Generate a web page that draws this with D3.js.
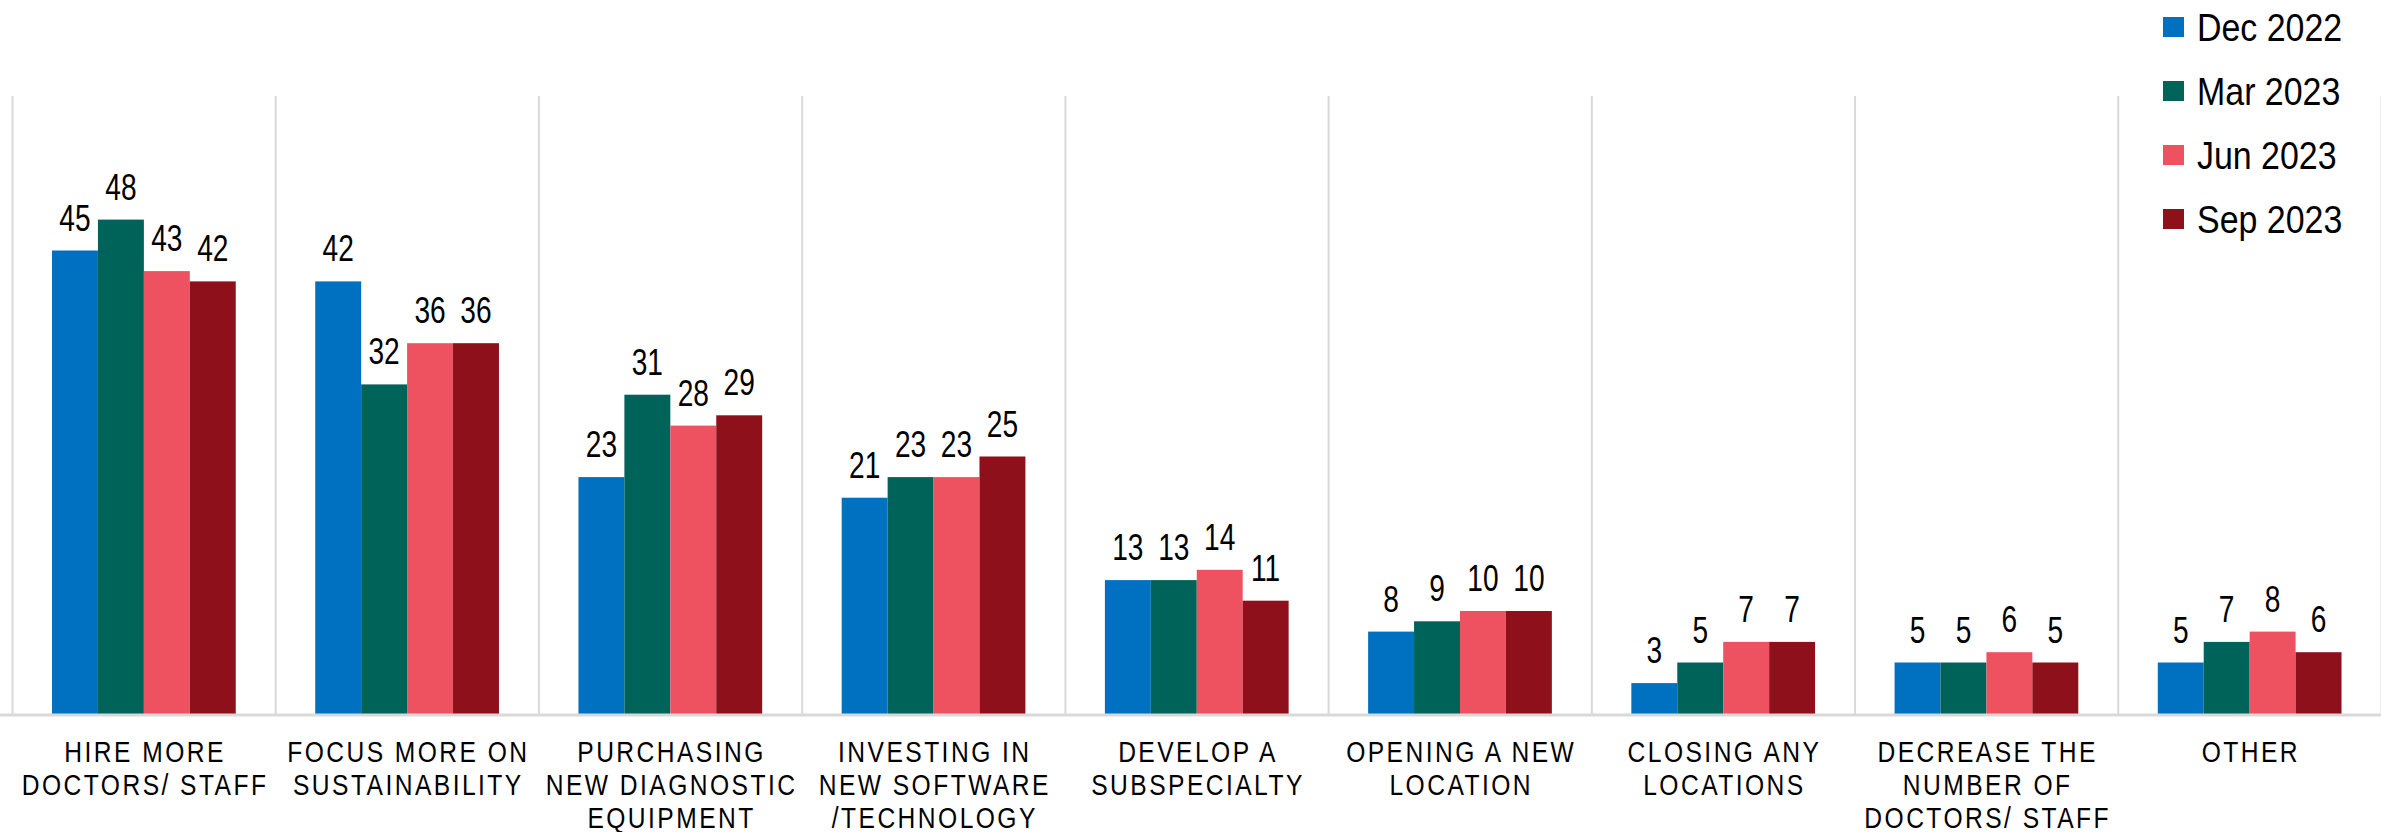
<!DOCTYPE html>
<html><head><meta charset="utf-8">
<script src="https://cdn.jsdelivr.net/npm/d3@7"></script>
<style>
html,body{margin:0;padding:0;background:#fff;}
svg{display:block;}
text{font-family:"Liberation Sans",Arial,sans-serif;fill:#000;}
</style></head>
<body>
<svg id="chart" width="2381" height="832"></svg>
<script>
const categories = [
  "HIRE MORE\nDOCTORS/ STAFF",
  "FOCUS MORE ON\nSUSTAINABILITY",
  "PURCHASING\nNEW DIAGNOSTIC\nEQUIPMENT",
  "INVESTING IN\nNEW SOFTWARE\n/TECHNOLOGY",
  "DEVELOP A\nSUBSPECIALTY",
  "OPENING A NEW\nLOCATION",
  "CLOSING ANY\nLOCATIONS",
  "DECREASE THE\nNUMBER OF\nDOCTORS/ STAFF",
  "OTHER"
];
const seriesNames = ["Dec 2022", "Mar 2023", "Jun 2023", "Sep 2023"];
const dec2022 = [45, 42, 23, 21, 13, 8, 3, 5, 5];
const mar2023 = [48, 32, 31, 23, 13, 9, 5, 5, 7];
const jun2023 = [43, 36, 28, 23, 14, 10, 7, 6, 8];
const sep2023 = [42, 36, 29, 25, 11, 10, 7, 5, 6];
const colors = ["#0070c0", "#006359", "#ee5260", "#8e101b"];

const seriesValues = [dec2022, mar2023, jun2023, sep2023];

const svg = d3.select("#chart");
const plotLeft = 12, plotRight = 2381, plotTop = 96, plotBottom = 714;

const x0 = d3.scaleBand().domain(d3.range(categories.length)).range([plotLeft, plotRight]).padding(0);
const bw = x0.bandwidth();
const x1 = d3.scaleBand().domain(d3.range(seriesNames.length)).range([0.152 * bw, 0.85 * bw]).padding(0);
const y = d3.scaleLinear().domain([0, 60]).range([plotBottom, plotTop]);

// vertical separators
const grid = svg.append("g");
grid.selectAll("line").data(d3.range(categories.length + 1)).join("line")
  .attr("x1", i => (i < categories.length ? x0(i) : plotRight) + 0.5)
  .attr("x2", i => (i < categories.length ? x0(i) : plotRight) + 0.5)
  .attr("y1", plotTop).attr("y2", plotBottom)
  .attr("stroke", "#d9d9d9").attr("stroke-width", 2);

// bars
const groups = svg.append("g").selectAll("g").data(categories).join("g")
  .attr("transform", (d, i) => `translate(${x0(i)},0)`);
const cellData = (d, i) => seriesValues.map((s, k) => ({k, v: s[i]}));
groups.selectAll("rect").data(cellData).join("rect")
  .attr("x", d => x1(d.k)).attr("width", x1.bandwidth())
  .attr("y", d => y(d.v)).attr("height", d => y(0) - y(d.v))
  .attr("fill", d => colors[d.k]);
groups.selectAll("text.val").data(cellData).join("text")
  .attr("class", "val")
  .attr("transform", d => `translate(${x1(d.k) + x1.bandwidth() / 2},${y(d.v) - 20}) scale(0.76,1)`)
  .attr("text-anchor", "middle")
  .attr("font-size", 37)
  .text(d => d.v);

// baseline
svg.append("line").attr("x1", 0).attr("x2", plotRight).attr("y1", plotBottom + 1).attr("y2", plotBottom + 1)
  .attr("stroke", "#d9d9d9").attr("stroke-width", 3);

// category labels
const labels = svg.append("g").selectAll("text").data(categories).join("text")
  .attr("transform", (d, i) => `translate(${x0(i) + bw / 2 + 1.5},762) scale(0.82,1)`)
  .attr("text-anchor", "middle")
  .attr("font-size", 30)
  .attr("letter-spacing", 3);
labels.selectAll("tspan").data(d => d.split("\n")).join("tspan")
  .attr("x", 0)
  .attr("dy", (d, j) => j === 0 ? 0 : 33)
  .text(d => d);

// legend
const lg = svg.append("g").selectAll("g").data(seriesNames).join("g")
  .attr("transform", (d, i) => `translate(2163,${27 + i * 64})`);
lg.append("rect").attr("x", 0).attr("y", -10).attr("width", 21).attr("height", 20)
  .attr("fill", (d, i) => colors[i]);
lg.append("text").attr("transform", "translate(34,14) scale(0.87,1)").attr("font-size", 39).text(d => d);
</script>
</body></html>
